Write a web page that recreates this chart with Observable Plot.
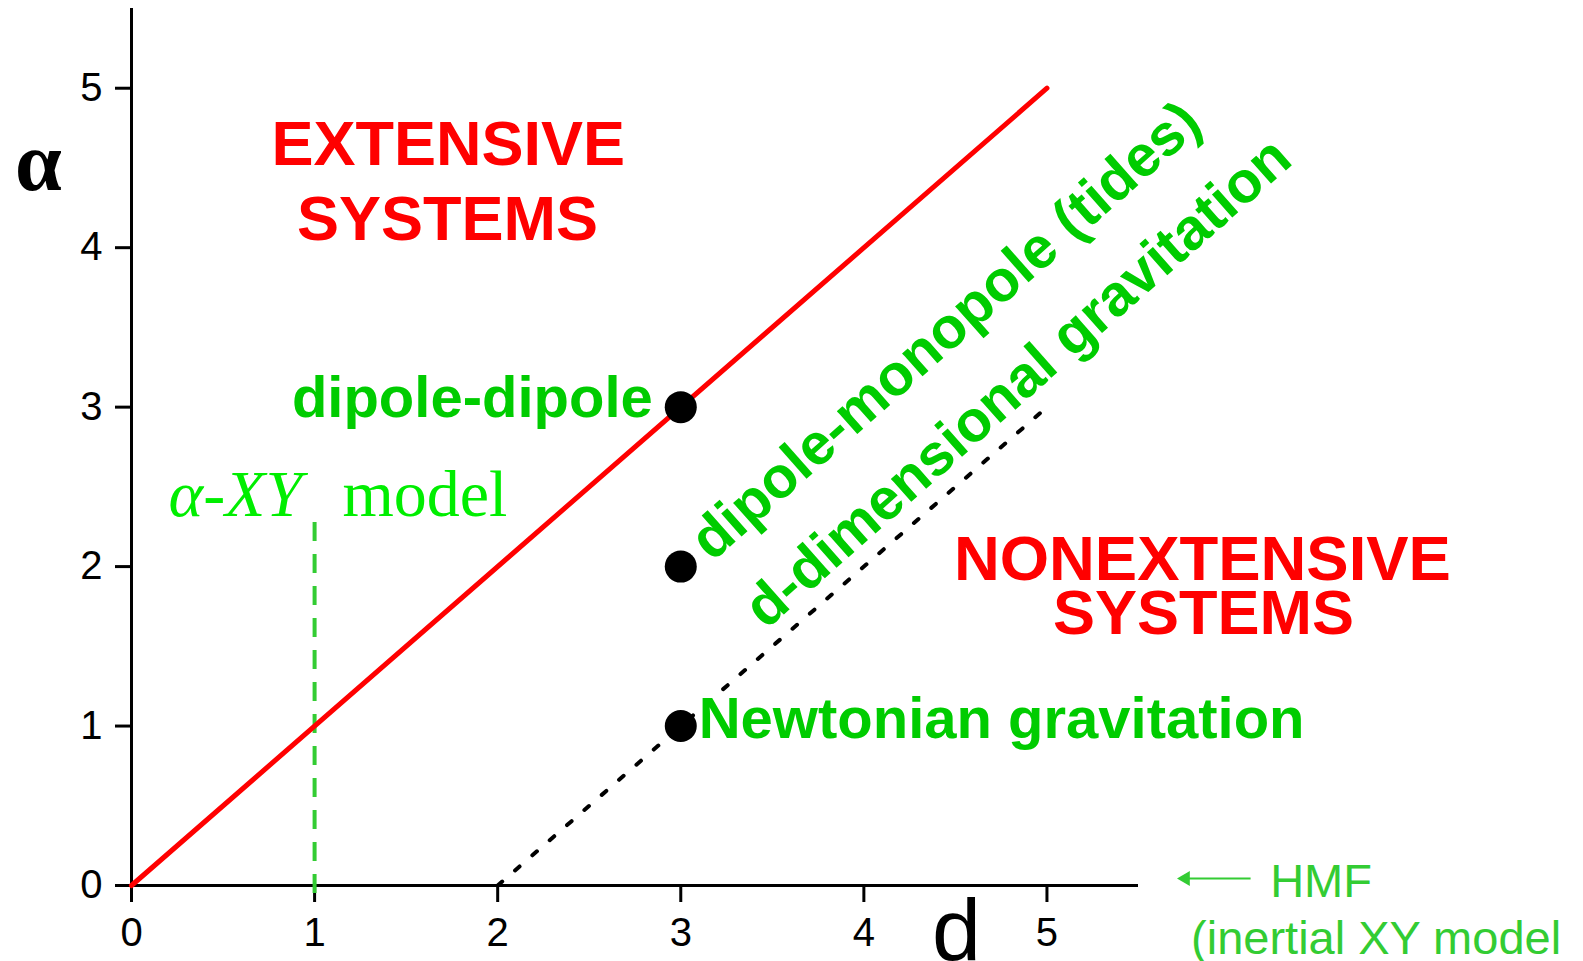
<!DOCTYPE html>
<html>
<head>
<meta charset="utf-8">
<script src="https://cdn.jsdelivr.net/npm/d3@7"></script>
<script src="https://cdn.jsdelivr.net/npm/@observablehq/plot@0.6"></script>
<style>
  html, body { margin: 0; padding: 0; background: #fff; }
  svg { display: block; }
</style>
</head>
<body>
<div id="chart"></div>
<script>
// ---- data ----
const xTicks = [0, 1, 2, 3, 4, 5];
const yTicks = [0, 1, 2, 3, 4, 5];
// boundary alpha = d (red line)
const boundaryD = [0, 5];
const boundaryAlpha = [0, 5];
// d-dimensional gravitation alpha = d - 2 (dotted)
const gravD = [2, 5];
const gravAlpha = [0, 3];
// example systems (black dots)
const systemsD = [3, 3, 3];
const systemsAlpha = [3, 2, 1];
// alpha-XY model (dashed green, d = 1)
const xyModelD = [1];
const xyModelAlphaRange = [-0.05, 2.315];
// text labels
const regionTitles = ["EXTENSIVE", "SYSTEMS", "NONEXTENSIVE", "SYSTEMS"];
const systemNames = ["dipole-dipole", "dipole-monopole (tides)", "d-dimensional gravitation", "Newtonian gravitation"];
const xyModelLabel = ["α-XY", "model"];
const hmfLabel = ["HMF", "(inertial XY model"];
const axisLabels = ["d", "α"];

const sans = "'Liberation Sans', Arial, Helvetica, sans-serif";
const serif = "'Liberation Serif', 'Times New Roman', serif";
const red = "#ff0000";
const green = "#00cc00";
const lightGreen = "#33cc33";
const brightGreen = "#00ee00";
const ang = -41.5;

const chart = Plot.plot({
  width: 1583,
  height: 961,
  marginLeft: 131,
  marginRight: 445,
  marginTop: 8,
  marginBottom: 76,
  x: {domain: [0, 5.5]},
  y: {domain: [0, 5.5]},
  style: {fontFamily: sans, color: "black", background: "white", overflow: "visible"},
  marks: [
    // axes
    Plot.axisX({ticks: xTicks, tickFormat: d => String(d), tickSize: 17, tickPadding: 15, fontSize: 40, strokeWidth: 3, label: null}),
    Plot.axisY({ticks: yTicks, tickFormat: d => String(d), tickSize: 16, tickPadding: 13, fontSize: 40, strokeWidth: 3, label: null}),
    Plot.ruleX([0], {y1: 0, y2: 5.5, strokeWidth: 3, stroke: "black"}),
    Plot.ruleY([0], {x1: 0, x2: 5.5, strokeWidth: 3, stroke: "black"}),
    // alpha-XY dashed line
    Plot.ruleX(xyModelD, {x: d => d, y1: xyModelAlphaRange[0], y2: xyModelAlphaRange[1], stroke: lightGreen, strokeWidth: 4, strokeDasharray: "19,13"}),
    // boundary line
    Plot.line(boundaryD, {x: boundaryD, y: boundaryAlpha, stroke: red, strokeWidth: 5, strokeLinecap: "round"}),
    // gravitation dotted line
    Plot.line(gravD, {x: gravD, y: gravAlpha, stroke: "black", strokeWidth: 4, strokeDasharray: "6,17"}),
    // system dots
    Plot.dot(systemsD, {x: systemsD, y: systemsAlpha, r: 16, fill: "black", stroke: "none"}),
    // region titles
    Plot.text([regionTitles[0]], {x: 1.73, y: 4.516, text: d => d, fontSize: 63, fontWeight: "bold", fill: red, textAnchor: "middle", lineAnchor: "bottom"}),
    Plot.text([regionTitles[1]], {x: 1.726, y: 4.051, text: d => d, fontSize: 63, fontWeight: "bold", fill: red, textAnchor: "middle", lineAnchor: "bottom"}),
    Plot.text([regionTitles[2]], {x: 5.849, y: 1.913, text: d => d, fontSize: 63, fontWeight: "bold", fill: red, textAnchor: "middle", lineAnchor: "bottom"}),
    Plot.text([regionTitles[3]], {x: 5.855, y: 1.580, text: d => d, fontSize: 63, fontWeight: "bold", fill: red, textAnchor: "middle", lineAnchor: "bottom"}),
    // system labels
    Plot.text([systemNames[0]], {x: 2.847, y: 2.936, text: d => d, fontSize: 58, fontWeight: "bold", fill: green, textAnchor: "end", lineAnchor: "bottom"}),
    Plot.text([systemNames[1]], {x: 3.17, y: 2.025, text: d => d, fontSize: 58, fontWeight: "bold", fill: green, textAnchor: "start", lineAnchor: "bottom", rotate: ang}),
    Plot.text([systemNames[2]], {x: 3.465, y: 1.60, text: d => d, fontSize: 58, fontWeight: "bold", fill: green, textAnchor: "start", lineAnchor: "bottom", rotate: ang}),
    Plot.text([systemNames[3]], {x: 3.098, y: 0.928, text: d => d, fontSize: 58, fontWeight: "bold", fill: green, textAnchor: "start", lineAnchor: "bottom"}),
    // alpha-XY model label
    Plot.text([xyModelLabel[0]], {x: 0.202, y: 2.32, text: d => d, fontSize: 66, fontFamily: serif, fontStyle: "italic", fill: brightGreen, textAnchor: "start", lineAnchor: "bottom"}),
    Plot.text([xyModelLabel[1]], {x: 1.152, y: 2.32, text: d => d, fontSize: 66, fontFamily: serif, fill: brightGreen, textAnchor: "start", lineAnchor: "bottom"}),
    // HMF annotation
    Plot.ruleY([0.044], {x1: 5.74, x2: 6.115, stroke: lightGreen, strokeWidth: 2}),
    Plot.dot([0.044], {x: 5.757, y: d => d, symbol: "triangle", rotate: -90, r: 5.5, fill: lightGreen, stroke: "none"}),
    Plot.text([hmfLabel[0]], {x: 6.219, y: -0.075, text: d => d, fontSize: 47, fill: lightGreen, textAnchor: "start", lineAnchor: "bottom"}),
    Plot.text([hmfLabel[1]], {x: 5.787, y: -0.427, text: d => d, fontSize: 47, fill: lightGreen, textAnchor: "start", lineAnchor: "bottom"}),
    // axis titles
    Plot.text([axisLabels[0]], {x: 4.506, y: -0.47, text: d => d, fontSize: 88, fill: "black", textAnchor: "middle", lineAnchor: "bottom"}),
    Plot.text([axisLabels[1]], {x: -0.508, y: 4.359, text: d => d, fontSize: 84, fontFamily: serif, fontWeight: "bold", fill: "black", textAnchor: "middle", lineAnchor: "bottom"})
  ]
});

// condensed NONEXTENSIVE title as in the reference
d3.select(chart).selectAll("text").filter(function() { return this.textContent === "NONEXTENSIVE"; })
  .attr("textLength", 497).attr("lengthAdjust", "spacingAndGlyphs");

document.getElementById("chart").appendChild(chart);
</script>
</body>
</html>
